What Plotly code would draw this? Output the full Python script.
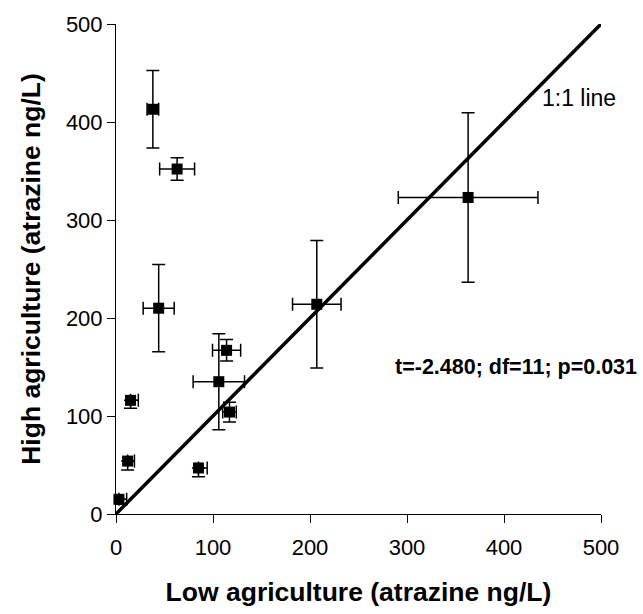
import plotly.graph_objects as go

# Data (atrazine ng/L)
low_ag = [38, 63, 44, 363, 207, 114, 106, 117, 15, 12, 85, 3]
high_ag = [413, 352, 210, 323, 214, 167, 135, 104, 116, 54, 47, 15]
low_err_plus = [6, 18, 16, 72, 25, 14.5, 26.5, 7, 8, 7, 9, 8]
low_err_minus = [6, 18, 16, 72, 25, 14.5, 26.5, 7, 0, 0, 0, 0]
high_err_plus = [39.5, 11.5, 44.5, 86.5, 65, 11, 49, 10, 0, 0, 0, 0]
high_err_minus = [39.5, 11.5, 44.5, 86.5, 65, 11, 49, 10, 8, 9, 9, 5]

line_x = [0, 500]
line_y = [0, 500]

tick_vals = [0, 100, 200, 300, 400, 500]
tick_text = ["0", "100", "200", "300", "400", "500"]

FONT = "Liberation Sans, Arial, sans-serif"

fig = go.Figure()

fig.add_trace(go.Scatter(
    x=line_x, y=line_y, mode="lines",
    line=dict(color="black", width=3.5),
    showlegend=False, hoverinfo="skip", cliponaxis=False,
))

fig.add_trace(go.Scatter(
    x=low_ag, y=high_ag, mode="markers",
    marker=dict(symbol="square", size=11, color="black"),
    error_x=dict(type="data", array=low_err_plus, arrayminus=low_err_minus,
                 symmetric=False, visible=True, color="black", thickness=1.5, width=6.5),
    error_y=dict(type="data", array=high_err_plus, arrayminus=high_err_minus,
                 symmetric=False, visible=True, color="black", thickness=1.5, width=6.5),
    showlegend=False, cliponaxis=False,
))

fig.add_annotation(x=437, y=425, xref="x", yref="y", text="1:1 line",
                   showarrow=False, xanchor="left", yanchor="middle",
                   font=dict(family=FONT, size=23, color="black"))
fig.add_annotation(x=286, y=150, xref="x", yref="y", text="<b>t=-2.480; df=11; p=0.031</b>",
                   showarrow=False, xanchor="left", yanchor="middle",
                   font=dict(family=FONT, size=21.5, color="black"))

axis_common = dict(
    range=[0, 500], tickvals=tick_vals, ticktext=tick_text,
    showgrid=False, zeroline=False, showline=True, linecolor="black", linewidth=1,
    ticks="outside", ticklen=8, tickwidth=1, tickcolor="black",
    tickfont=dict(family=FONT, size=22, color="black"),
)

fig.update_xaxes(**axis_common, ticklabelstandoff=6,
                 title=dict(text="<b>Low agriculture (atrazine ng/L)</b>",
                            font=dict(family=FONT, size=26.5, color="black"), standoff=23))
fig.update_yaxes(**axis_common,
                 title=dict(text="<b>High agriculture (atrazine ng/L)</b>",
                            font=dict(family=FONT, size=26.5, color="black"), standoff=17))

fig.update_layout(
    width=643, height=614,
    margin=dict(l=116, r=42, t=22, b=100, pad=0),
    plot_bgcolor="white", paper_bgcolor="white",
)

fig.write_html("out.html")
